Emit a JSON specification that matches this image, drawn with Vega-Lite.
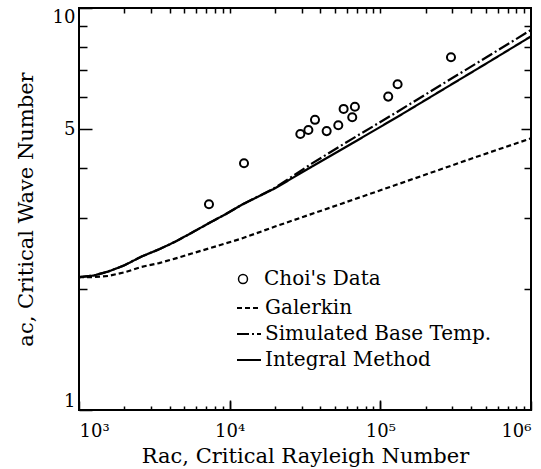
{
  "$schema": "https://vega.github.io/schema/vega-lite/v6.json",
  "width": 452,
  "height": 402,
  "autosize": "none",
  "padding": {"left": 79, "top": 8, "right": 10, "bottom": 59},
  "background": "white",
  "config": {
    "font": "DejaVu Serif",
    "view": {"stroke": "black", "strokeWidth": 2},
    "axis": {
      "domain": false,
      "grid": false,
      "tickColor": "black",
      "tickWidth": 1.5,
      "labelColor": "black",
      "titleColor": "black",
      "labelFont": "DejaVu Serif",
      "titleFont": "DejaVu Serif",
      "labelFontSize": 18,
      "titleFontSize": 21,
      "titleFontWeight": "normal",
      "labelFlush": true,
      "labelOverlap": false
    },
    "legend": {
      "labelFont": "DejaVu Serif",
      "labelFontSize": 20,
      "labelColor": "black",
      "labelLimit": 400,
      "padding": 0
    }
  },
  "datasets": {
    "choi": [
      {"series": "Choi's Data", "Ra": 7290, "a": 3.25},
      {"series": "Choi's Data", "Ra": 12450, "a": 4.11},
      {"series": "Choi's Data", "Ra": 29450, "a": 4.86},
      {"series": "Choi's Data", "Ra": 33300, "a": 4.97},
      {"series": "Choi's Data", "Ra": 36840, "a": 5.27},
      {"series": "Choi's Data", "Ra": 44030, "a": 4.94},
      {"series": "Choi's Data", "Ra": 52600, "a": 5.11},
      {"series": "Choi's Data", "Ra": 57060, "a": 5.61},
      {"series": "Choi's Data", "Ra": 65100, "a": 5.35},
      {"series": "Choi's Data", "Ra": 67800, "a": 5.68},
      {"series": "Choi's Data", "Ra": 112800, "a": 6.02},
      {"series": "Choi's Data", "Ra": 130200, "a": 6.46},
      {"series": "Choi's Data", "Ra": 294400, "a": 7.54}
    ],
    "curves": [
      {"method": "Galerkin", "Ra": 1000, "a": 2.14},
      {"method": "Galerkin", "Ra": 1250, "a": 2.142},
      {"method": "Galerkin", "Ra": 1563, "a": 2.155},
      {"method": "Galerkin", "Ra": 2000, "a": 2.2},
      {"method": "Galerkin", "Ra": 2606, "a": 2.27},
      {"method": "Galerkin", "Ra": 3400, "a": 2.32},
      {"method": "Galerkin", "Ra": 4335, "a": 2.38},
      {"method": "Galerkin", "Ra": 5600, "a": 2.45},
      {"method": "Galerkin", "Ra": 7211, "a": 2.52},
      {"method": "Galerkin", "Ra": 12023, "a": 2.67},
      {"method": "Galerkin", "Ra": 20000, "a": 2.86},
      {"method": "Galerkin", "Ra": 55340, "a": 3.26},
      {"method": "Galerkin", "Ra": 153100, "a": 3.72},
      {"method": "Galerkin", "Ra": 424600, "a": 4.25},
      {"method": "Galerkin", "Ra": 1000000, "a": 4.74},
      {"method": "Simulated Base Temp.", "Ra": 1000, "a": 2.14},
      {"method": "Simulated Base Temp.", "Ra": 1250, "a": 2.16},
      {"method": "Simulated Base Temp.", "Ra": 1563, "a": 2.21},
      {"method": "Simulated Base Temp.", "Ra": 2000, "a": 2.29},
      {"method": "Simulated Base Temp.", "Ra": 2606, "a": 2.41},
      {"method": "Simulated Base Temp.", "Ra": 3400, "a": 2.51},
      {"method": "Simulated Base Temp.", "Ra": 4335, "a": 2.62},
      {"method": "Simulated Base Temp.", "Ra": 5600, "a": 2.76},
      {"method": "Simulated Base Temp.", "Ra": 7211, "a": 2.91},
      {"method": "Simulated Base Temp.", "Ra": 9400, "a": 3.07},
      {"method": "Simulated Base Temp.", "Ra": 12023, "a": 3.24},
      {"method": "Simulated Base Temp.", "Ra": 20000, "a": 3.57},
      {"method": "Simulated Base Temp.", "Ra": 35000, "a": 4.1},
      {"method": "Simulated Base Temp.", "Ra": 64600, "a": 4.72},
      {"method": "Simulated Base Temp.", "Ra": 130000, "a": 5.52},
      {"method": "Simulated Base Temp.", "Ra": 255200, "a": 6.45},
      {"method": "Simulated Base Temp.", "Ra": 500000, "a": 7.52},
      {"method": "Simulated Base Temp.", "Ra": 1000000, "a": 8.82},
      {"method": "Integral Method", "Ra": 1000, "a": 2.14},
      {"method": "Integral Method", "Ra": 1250, "a": 2.16},
      {"method": "Integral Method", "Ra": 1563, "a": 2.21},
      {"method": "Integral Method", "Ra": 2000, "a": 2.29},
      {"method": "Integral Method", "Ra": 2606, "a": 2.41},
      {"method": "Integral Method", "Ra": 3400, "a": 2.51},
      {"method": "Integral Method", "Ra": 4335, "a": 2.62},
      {"method": "Integral Method", "Ra": 5600, "a": 2.76},
      {"method": "Integral Method", "Ra": 7211, "a": 2.91},
      {"method": "Integral Method", "Ra": 9400, "a": 3.07},
      {"method": "Integral Method", "Ra": 12023, "a": 3.24},
      {"method": "Integral Method", "Ra": 20000, "a": 3.56},
      {"method": "Integral Method", "Ra": 35000, "a": 4.03},
      {"method": "Integral Method", "Ra": 64600, "a": 4.6},
      {"method": "Integral Method", "Ra": 130000, "a": 5.36},
      {"method": "Integral Method", "Ra": 255200, "a": 6.24},
      {"method": "Integral Method", "Ra": 500000, "a": 7.26},
      {"method": "Integral Method", "Ra": 1000000, "a": 8.5}
    ]
  },
  "layer": [
    {
      "data": {"name": "choi"},
      "mark": {"type": "point", "filled": false, "size": 65, "strokeWidth": 2, "color": "black", "opacity": 1},
      "encoding": {
        "x": {
          "field": "Ra", "type": "quantitative",
          "scale": {"type": "log", "domain": [1000, 1000000], "nice": false},
          "axis": {
            "orient": "bottom",
            "values": [1000, 10000, 100000, 1000000],
            "tickSize": -9,
            "labelPadding": 21,
            "labelExpr": "round(log(datum.value)/LN10) == 3 ? '10³' : round(log(datum.value)/LN10) == 4 ? '10⁴' : round(log(datum.value)/LN10) == 5 ? '10⁵' : '10⁶'",
            "title": "Rac, Critical Rayleigh Number",
            "titlePadding": 5
          }
        },
        "y": {
          "field": "a", "type": "quantitative",
          "scale": {"type": "log", "domain": [1, 10], "nice": false},
          "axis": {
            "orient": "left",
            "values": [1, 5, 10],
            "tickSize": -13,
            "labelPadding": 17,
            "labelExpr": "format(datum.value, 'd')",
            "title": "ac, Critical Wave Number",
            "titlePadding": 16
          }
        },
        "shape": {
          "field": "series", "type": "nominal",
          "scale": {"domain": ["Choi's Data"], "range": ["circle"]},
          "legend": {
            "orient": "none", "legendX": 154, "legendY": 261, "title": null,
            "symbolSize": 80, "symbolStrokeWidth": 1.5, "symbolStrokeColor": "black",
            "symbolFillColor": "transparent", "labelOffset": 11
          }
        }
      }
    },
    {
      "data": {"name": "curves"},
      "transform": [{"filter": "datum.method == 'Galerkin'"}],
      "mark": {"type": "line", "color": "black", "strokeWidth": 2.2},
      "encoding": {
        "x": {
          "field": "Ra", "type": "quantitative",
          "scale": {"type": "log", "domain": [1000, 1000000], "nice": false},
          "axis": {
            "orient": "bottom",
            "values": [2000, 3000, 4000, 5000, 6000, 7000, 8000, 9000, 20000, 30000, 40000, 50000, 60000, 70000, 80000, 90000, 200000, 300000, 400000, 500000, 600000, 700000, 800000, 900000],
            "tickSize": -4,
            "labels": false,
            "title": null
          }
        },
        "y": {
          "field": "a", "type": "quantitative",
          "scale": {"type": "log", "domain": [1, 10], "nice": false},
          "axis": {
            "orient": "left",
            "values": [2, 3, 4, 6, 7, 8, 9],
            "tickSize": -8,
            "labels": false,
            "title": null
          }
        },
        "strokeDash": {
          "field": "method", "type": "nominal",
          "scale": {"domain": ["Galerkin", "Simulated Base Temp.", "Integral Method"], "range": [[5, 3], [12, 3, 2, 3], [1, 0]]},
          "legend": {
            "orient": "none", "legendX": 157, "legendY": 287, "title": null,
            "symbolType": "stroke", "symbolSize": 576, "symbolStrokeWidth": 2, "symbolStrokeColor": "black",
            "labelOffset": 3, "rowPadding": 3
          }
        }
      }
    },
    {
      "data": {"name": "curves"},
      "transform": [{"filter": "datum.method == 'Simulated Base Temp.'"}],
      "mark": {"type": "line", "color": "black", "strokeWidth": 2.2},
      "encoding": {
        "x": {
          "field": "Ra", "type": "quantitative",
          "scale": {"type": "log", "domain": [1000, 1000000], "nice": false},
          "axis": {
            "orient": "top",
            "values": [2000, 3000, 4000, 5000, 6000, 7000, 8000, 9000, 10000, 20000, 30000, 40000, 50000, 60000, 70000, 80000, 90000, 100000, 200000, 300000, 400000, 500000, 600000, 700000, 800000, 900000],
            "tickSize": -5,
            "labels": false,
            "title": null
          }
        },
        "y": {
          "field": "a", "type": "quantitative",
          "scale": {"type": "log", "domain": [1, 10], "nice": false},
          "axis": {
            "orient": "right",
            "values": [2, 3, 4, 6, 7, 8, 9],
            "tickSize": -7,
            "labels": false,
            "title": null
          }
        },
        "strokeDash": {"field": "method", "type": "nominal"}
      }
    },
    {
      "data": {"name": "curves"},
      "transform": [{"filter": "datum.method == 'Integral Method'"}],
      "mark": {"type": "line", "color": "black", "strokeWidth": 2.2},
      "encoding": {
        "x": {
          "field": "Ra", "type": "quantitative",
          "scale": {"type": "log", "domain": [1000, 1000000], "nice": false},
          "axis": {
            "orient": "bottom",
            "values": [10000, 100000],
            "tickSize": -10,
            "labels": false,
            "title": null
          }
        },
        "y": {
          "field": "a", "type": "quantitative",
          "scale": {"type": "log", "domain": [1, 10], "nice": false},
          "axis": {
            "orient": "right",
            "values": [5],
            "tickSize": -10,
            "labels": false,
            "title": null
          }
        },
        "strokeDash": {"field": "method", "type": "nominal"}
      }
    }
  ],
  "resolve": {"axis": {"x": "independent", "y": "independent"}}
}
